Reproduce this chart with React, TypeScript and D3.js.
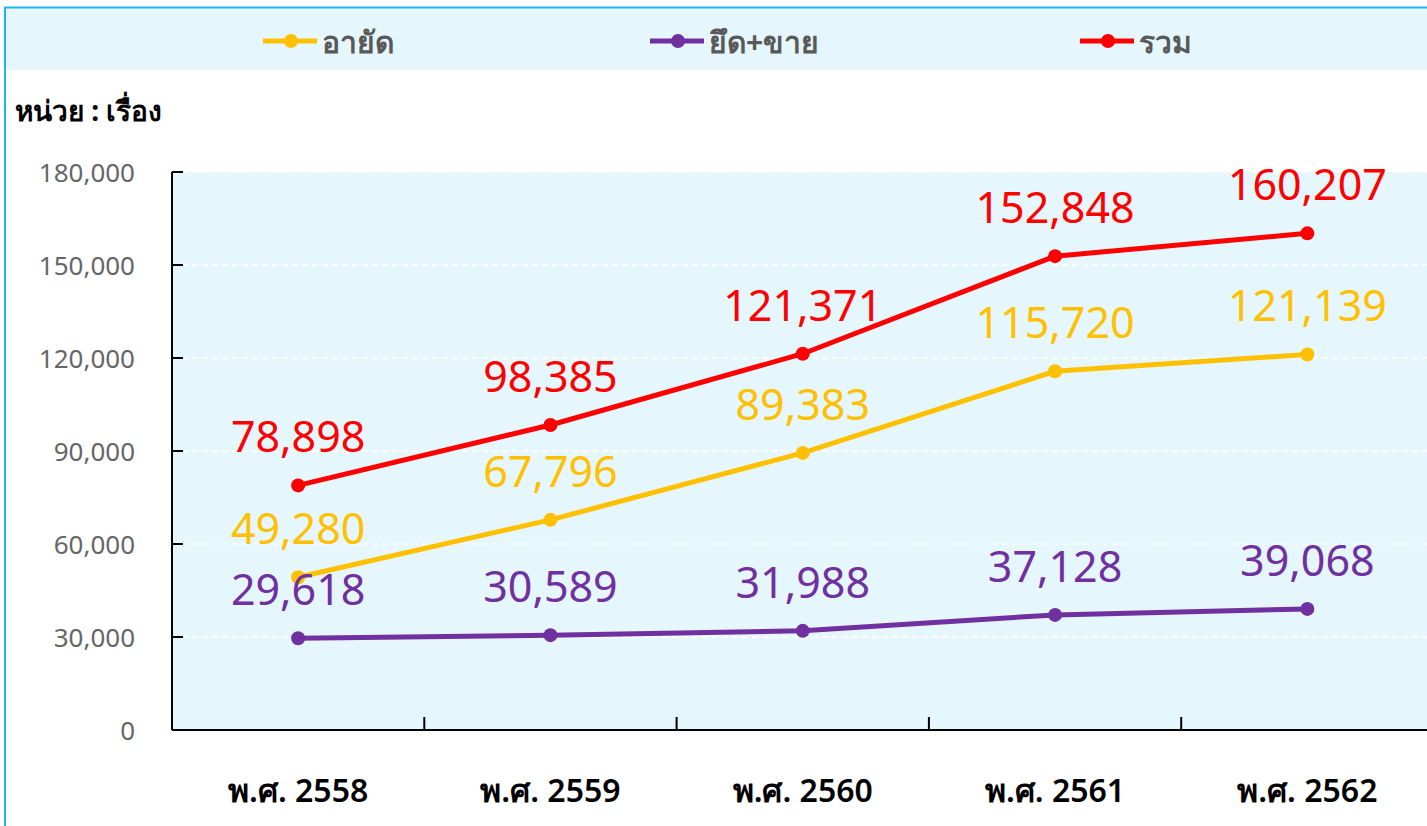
import React from "react";
import * as d3 from "d3";

const categories = ["พ.ศ. 2558", "พ.ศ. 2559", "พ.ศ. 2560", "พ.ศ. 2561", "พ.ศ. 2562"];
const seriesNames = ["อายัด", "ยึด+ขาย", "รวม"];
const seriesColors = ["#ffc000", "#7030a0", "#ff0000"];
const ayad = [49280, 67796, 89383, 115720, 121139];
const yuetKhai = [29618, 30589, 31988, 37128, 39068];
const ruam = [78898, 98385, 121371, 152848, 160207];
const yTicks = [0, 30000, 60000, 90000, 120000, 150000, 180000];
const unitLabel = "หน่วย : เรื่อง";

const FONT = "'Noto Sans', 'DejaVu Sans', sans-serif";

export default function App() {
  const W = 1427, H = 826;
  const left = 172, top = 172, bottom = 730;
  const bandW = 252.3;
  const x = d3.scaleBand().domain(categories).range([left, left + bandW * 5]).padding(0);
  const y = d3.scaleLinear().domain([0, 180000]).range([bottom, top]);
  const cx = (c: string) => (x(c) as number) + x.bandwidth() / 2;
  const series = [ayad, yuetKhai, ruam];
  const line = d3.line<number>().x((_, i) => cx(categories[i])).y((d) => y(d));
  const fmt = d3.format(",");
  const legendX = [263, 650, 1080];
  const right = left + bandW * 5;

  return (
    <svg width={W} height={H} style={{ position: "absolute", left: 0, top: 0 }}>
      <rect x={0} y={0} width={W} height={H} fill="#fff" />
      <rect x={5} y={8} width={W} height={62} fill="#e5f6fd" />
      <line x1={5} x2={W} y1={7.5} y2={7.5} stroke="#1fb5ee" strokeWidth={2} />
      <line x1={5} x2={5} y1={7} y2={H} stroke="#1fb5ee" strokeWidth={2} />
      {seriesNames.map((n, i) => (
        <g key={n}>
          <line x1={legendX[i]} x2={legendX[i] + 54} y1={41} y2={41} stroke={seriesColors[i]} strokeWidth={5} />
          <circle cx={legendX[i] + 28} cy={41} r={7} fill={seriesColors[i]} />
          <text x={legendX[i] + 59} y={53} fontFamily={FONT} fontSize={30} fontWeight="bold" fill="#595959">{n}</text>
        </g>
      ))}
      <text x={15} y={121} fontFamily={FONT} fontSize={28} fontWeight="bold" fill="#000">{unitLabel}</text>
      <rect x={left} y={top} width={right - left} height={bottom - top} fill="#e5f6fd" />
      {yTicks.filter((t) => t > 0).map((t) => (
        <line key={t} x1={left} x2={right} y1={y(t)} y2={y(t)} stroke="#fff" strokeWidth={1.5} strokeDasharray="6,4" />
      ))}
      <line x1={left} x2={left} y1={top} y2={bottom} stroke="#000" strokeWidth={2} />
      <line x1={left} x2={right} y1={bottom} y2={bottom} stroke="#000" strokeWidth={2} />
      {yTicks.map((t) => (
        <g key={t}>
          <line x1={left} x2={left + 11} y1={y(t)} y2={y(t)} stroke="#000" strokeWidth={2} />
          <text x={135} y={y(t) + 10} textAnchor="end" fontFamily={FONT} fontSize={26} fill="#666">{fmt(t)}</text>
        </g>
      ))}
      {categories.map((c, i) => (
        <g key={c}>
          {i > 0 && <line x1={x(c) as number} x2={x(c) as number} y1={bottom} y2={bottom - 13} stroke="#000" strokeWidth={2} />}
          <text x={cx(c)} y={802} textAnchor="middle" fontFamily={FONT} fontSize={32} fontWeight={600} fill="#000">{c}</text>
        </g>
      ))}
      {series.map((s, si) => (
        <g key={si}>
          <path d={line(s) as string} fill="none" stroke={seriesColors[si]} strokeWidth={5} />
          {s.map((v, i) => (
            <circle key={i} cx={cx(categories[i])} cy={y(v)} r={7} fill={seriesColors[si]} />
          ))}
          {s.map((v, i) => (
            <text key={"t" + i} x={cx(categories[i])} y={y(v) - 33} textAnchor="middle" fontFamily={FONT} fontSize={43} fill={seriesColors[si]}>{fmt(v)}</text>
          ))}
        </g>
      ))}
    </svg>
  );
}
